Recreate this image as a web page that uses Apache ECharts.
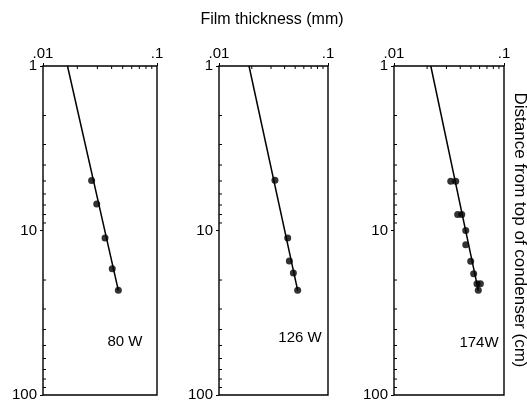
<!DOCTYPE html>
<html><head><meta charset="utf-8">
<script src="https://cdn.jsdelivr.net/npm/echarts@6/dist/echarts.min.js"></script>
<style>html,body{margin:0;padding:0;background:#fff}#c{width:527px;height:407px}</style>
</head><body><div id="c"></div>
<script>
// Data (film thickness mm, distance cm)
const panelNames = ['80 W', '126 W', '174W'];
const pts80X = [0.0267, 0.0296, 0.0350, 0.0405, 0.0458];
const pts80Y = [4.97, 6.89, 11.1, 17.1, 23.1];
const pts126X = [0.0326, 0.0427, 0.0442, 0.0481, 0.0527];
const pts126Y = [4.95, 11.1, 15.3, 18.1, 23.1];
const pts174X = [0.0328, 0.0364, 0.0379, 0.0413, 0.0449, 0.0449, 0.0498, 0.0530, 0.0568, 0.0610, 0.0584];
const pts174Y = [5.02, 5.02, 8.0, 8.0, 10.0, 12.2, 15.4, 18.3, 21.1, 21.1, 23.1];
const fit80X = [0.0164, 0.0458];
const fit80Y = [1, 23.1];
const fit126X = [0.01885, 0.0527];
const fit126Y = [1, 23.1];
const fit174X = [0.0216, 0.0584];
const fit174Y = [1, 23.1];
const xMinorTicks = [0.02, 0.03, 0.04, 0.05, 0.06, 0.07, 0.08, 0.09];
const yMinorTicks = [2, 3, 4, 5, 6, 7, 8, 9, 20, 30, 40, 50, 60, 70, 80, 90];
const xTickLabels = {'0.01': '.01', '0.1': '.1'};
const yTickLabels = {'1': '1', '10': '10', '100': '100'};

const ptsX = [pts80X, pts126X, pts174X];
const ptsY = [pts80Y, pts126Y, pts174Y];
const fitX = [fit80X, fit126X, fit174X];
const fitY = [fit80Y, fit126Y, fit174Y];

const FONT = '"Liberation Sans", Arial, Helvetica, sans-serif';
const gridPos = [
  {left: 43, width: 114},
  {left: 219, width: 109},
  {left: 394, width: 110}
];
const labelPos = [[125, 342], [300, 338], [479, 343]];

const zip = (a, b) => a.map((v, i) => [v, b[i]]);
const fmtKey = v => String(+Number(v).toPrecision(3));

const grids = [], xAxes = [], yAxes = [], series = [];
gridPos.forEach((g, i) => {
  grids.push({left: g.left, width: g.width, top: 66, height: 329, show: true,
    borderColor: '#000', borderWidth: 1.4, backgroundColor: 'transparent'});
  xAxes.push({gridIndex: i, type: 'log', logBase: 10, min: 0.01, max: 0.1, position: 'top',
    axisLine: {show: false}, splitLine: {show: false},
    axisTick: {show: true, inside: false, length: 3, lineStyle: {color: '#000'}},
    axisLabel: {margin: 5, color: '#000', fontSize: 15, fontFamily: FONT,
      formatter: v => xTickLabels[fmtKey(v)] || ''}});
  yAxes.push({gridIndex: i, type: 'log', logBase: 10, min: 1, max: 100, inverse: true,
    axisLine: {show: false}, splitLine: {show: false},
    axisTick: {show: true, inside: false, length: 3, lineStyle: {color: '#000'}},
    axisLabel: {margin: 6, color: '#000', fontSize: 15, fontFamily: FONT,
      formatter: v => yTickLabels[fmtKey(v)] || ''}});
  series.push({type: 'line', xAxisIndex: i, yAxisIndex: i, data: zip(fitX[i], fitY[i]),
    showSymbol: false, symbol: 'none', lineStyle: {color: '#000', width: 1.5}, silent: true, animation: false});
  series.push({type: 'scatter', xAxisIndex: i, yAxisIndex: i, data: zip(ptsX[i], ptsY[i]),
    symbol: 'circle', symbolSize: 7, itemStyle: {color: '#000'}, animation: false});
  const tickData = xMinorTicks.map(v => [v, 1, 0]).concat(yMinorTicks.map(v => [0.01, v, 1]));
  series.push({type: 'custom', xAxisIndex: i, yAxisIndex: i, data: tickData, silent: true, animation: false,
    clip: false,
    renderItem: (params, api) => {
      const p = api.coord([api.value(0), api.value(1)]);
      const dir = api.value(2);
      const shape = dir === 0 ? {x1: p[0], y1: p[1], x2: p[0], y2: p[1] + 3}
                              : {x1: p[0], y1: p[1], x2: p[0] + 3, y2: p[1]};
      return {type: 'line', shape, style: {stroke: '#000', lineWidth: 1}};
    }});
});

const graphics = panelNames.map((name, i) => ({
  type: 'text', x: labelPos[i][0], y: labelPos[i][1],
  style: {text: name, fill: '#000', font: '15px ' + FONT, align: 'center', verticalAlign: 'middle'}
}));
graphics.push({type: 'text', x: 272, y: 20,
  style: {text: 'Film thickness (mm)', fill: '#000', font: '16px ' + FONT, align: 'center', verticalAlign: 'middle'}});
graphics.push({type: 'text', x: 520, y: 230, rotation: -Math.PI / 2,
  style: {text: 'Distance from top of condenser (cm)', fill: '#000', font: '17px ' + FONT, align: 'center', verticalAlign: 'middle'}});

const chart = echarts.init(document.getElementById('c'), null, {renderer: 'canvas'});
chart.setOption({
  animation: false,
  backgroundColor: '#fff',
  grid: grids, xAxis: xAxes, yAxis: yAxes, series, graphic: graphics
});
</script></body></html>
